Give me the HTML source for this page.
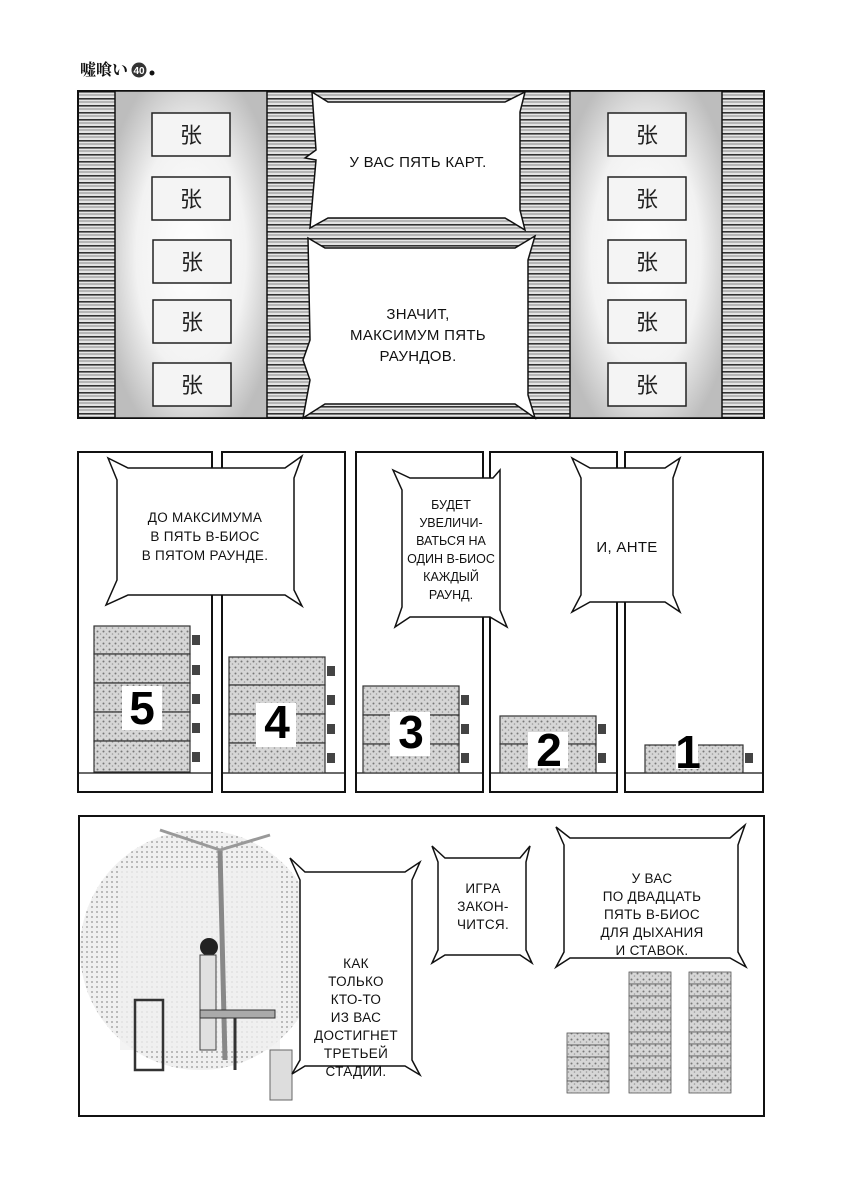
<!DOCTYPE html>
<html><head><meta charset="utf-8"><style>
html,body{margin:0;padding:0;background:#fff;}
svg{display:block;}
text{font-family:"Liberation Sans","DejaVu Sans",sans-serif;}
.t{font-size:13.5px;fill:#111;text-anchor:middle;letter-spacing:0.3px;}
.s{font-size:12.5px;letter-spacing:0;}
.n{font-size:46px;font-weight:bold;fill:#000;text-anchor:middle;}
</style></head><body>
<svg width="844" height="1200" viewBox="0 0 844 1200" xmlns="http://www.w3.org/2000/svg">
<defs>
<pattern id="str" width="10" height="7" patternUnits="userSpaceOnUse">
<rect width="10" height="7" fill="#e4e4e4"/><rect y="0" width="10" height="1.6" fill="#333"/><rect y="3.5" width="10" height="1" fill="#888"/>
</pattern>
<radialGradient id="glow" cx="50%" cy="50%" r="60%">
<stop offset="0" stop-color="#fff"/><stop offset="0.6" stop-color="#f2f2f2"/><stop offset="1" stop-color="#bdbdbd"/>
</radialGradient>
<pattern id="tex" width="6" height="6" patternUnits="userSpaceOnUse">
<rect width="6" height="6" fill="#d6d6d6"/><circle cx="1.5" cy="1.5" r="1" fill="#777"/><circle cx="4.5" cy="4" r="0.8" fill="#999"/>
</pattern>
<pattern id="dots" width="5" height="5" patternUnits="userSpaceOnUse">
<rect width="5" height="5" fill="#eee"/><circle cx="2" cy="2" r="0.9" fill="#888"/>
</pattern>
</defs>

<text x="80" y="75" style="font-family:'Noto Serif CJK SC',serif;font-size:16px;font-weight:bold;fill:#111">嘘喰い</text>
<circle cx="139" cy="70" r="7.5" fill="#333"/><text x="139" y="74" style="font-size:10px;fill:#fff;text-anchor:middle;font-weight:bold">40</text>
<circle cx="152" cy="73" r="2.5" fill="#111"/>

<rect x="78" y="91" width="686" height="327" fill="url(#str)" stroke="#111" stroke-width="2"/>
<rect x="115" y="91" width="152" height="327" fill="url(#glow)" stroke="#111" stroke-width="1.5"/>
<rect x="570" y="91" width="152" height="327" fill="url(#glow)" stroke="#111" stroke-width="1.5"/>
<g fill="#f4f4f4" stroke="#222" stroke-width="1.5">
<rect x="152" y="113" width="78" height="43"/><rect x="152" y="177" width="78" height="43"/><rect x="153" y="240" width="78" height="43"/><rect x="153" y="300" width="78" height="43"/><rect x="153" y="363" width="78" height="43"/>
<rect x="608" y="113" width="78" height="43"/><rect x="608" y="177" width="78" height="43"/><rect x="608" y="240" width="78" height="43"/><rect x="608" y="300" width="78" height="43"/><rect x="608" y="363" width="78" height="43"/>
</g>
<g font-size="22" fill="#222" text-anchor="middle" style="font-family:'Noto Sans CJK SC',sans-serif">
<text x="191" y="143">张</text><text x="191" y="207">张</text><text x="192" y="270">张</text><text x="192" y="330">张</text><text x="192" y="393">张</text>
<text x="647" y="143">张</text><text x="647" y="207">张</text><text x="647" y="270">张</text><text x="647" y="330">张</text><text x="647" y="393">张</text>
</g>
<polygon points="312,92 328,102 505,102 525,92 520,112 520,210 525,230 505,218 328,218 310,228 316,160 305,158 316,150" fill="#fff" stroke="#111" stroke-width="1.5"/>
<polygon points="308,238 325,248 515,248 535,236 528,260 528,395 535,418 515,404 325,404 303,418 310,380 303,360 310,340" fill="#fff" stroke="#111" stroke-width="1.5"/>
<text class="t" x="418" y="167" style="font-size:15px">У ВАС ПЯТЬ КАРТ.</text>
<text class="t" x="418" y="319" style="font-size:15px">ЗНАЧИТ,</text>
<text class="t" x="418" y="340" style="font-size:15px">МАКСИМУМ ПЯТЬ</text>
<text class="t" x="418" y="361" style="font-size:15px">РАУНДОВ.</text>

<g fill="#fff" stroke="#111" stroke-width="2">
<rect x="78" y="452" width="134" height="340"/>
<rect x="222" y="452" width="123" height="340"/>
<rect x="356" y="452" width="127" height="340"/>
<rect x="490" y="452" width="127" height="340"/>
<rect x="625" y="452" width="138" height="340"/>
</g>
<g stroke="#111" stroke-width="1.2">
<line x1="79" y1="773" x2="211" y2="773"/><line x1="223" y1="773" x2="344" y2="773"/><line x1="357" y1="773" x2="482" y2="773"/><line x1="491" y1="773" x2="616" y2="773"/><line x1="626" y1="773" x2="762" y2="773"/>
</g>
<g stroke="#333" stroke-width="1.2" fill="url(#tex)">
<rect x="94" y="626" width="96" height="28"/><rect x="94" y="654" width="96" height="29"/><rect x="94" y="683" width="96" height="29"/><rect x="94" y="712" width="96" height="29"/><rect x="94" y="741" width="96" height="31"/>
<rect x="229" y="657" width="96" height="28"/><rect x="229" y="685" width="96" height="29"/><rect x="229" y="714" width="96" height="29"/><rect x="229" y="743" width="96" height="30"/>
<rect x="363" y="686" width="96" height="29"/><rect x="363" y="715" width="96" height="29"/><rect x="363" y="744" width="96" height="29"/>
<rect x="500" y="716" width="96" height="28"/><rect x="500" y="744" width="96" height="29"/>
<rect x="645" y="745" width="98" height="28"/>
</g>
<g fill="#444">
<rect x="192" y="635" width="8" height="10"/><rect x="192" y="665" width="8" height="10"/><rect x="192" y="694" width="8" height="10"/><rect x="192" y="723" width="8" height="10"/><rect x="192" y="752" width="8" height="10"/>
<rect x="327" y="666" width="8" height="10"/><rect x="327" y="695" width="8" height="10"/><rect x="327" y="724" width="8" height="10"/><rect x="327" y="753" width="8" height="10"/>
<rect x="461" y="695" width="8" height="10"/><rect x="461" y="724" width="8" height="10"/><rect x="461" y="753" width="8" height="10"/>
<rect x="598" y="724" width="8" height="10"/><rect x="598" y="753" width="8" height="10"/>
<rect x="745" y="753" width="8" height="10"/>
</g>
<g fill="#fff"><rect x="122" y="686" width="40" height="44"/><rect x="256" y="703" width="40" height="44"/><rect x="390" y="712" width="40" height="44"/><rect x="528" y="732" width="40" height="36"/><rect x="676" y="733" width="22" height="36"/></g>
<text class="n" x="142" y="724">5</text>
<text class="n" x="277" y="738">4</text>
<text class="n" x="411" y="748">3</text>
<text class="n" x="549" y="766">2</text>
<text class="n" x="688" y="768">1</text>
<polygon points="108,458 128,468 285,468 302,456 294,478 294,590 302,606 285,595 128,595 106,605 117,580 117,480" fill="#fff" stroke="#111" stroke-width="1.5"/>
<polygon points="393,470 410,478 493,478 500,470 500,610 507,627 490,617 410,617 395,627 402,607 402,490" fill="#fff" stroke="#111" stroke-width="1.5"/>
<polygon points="572,458 590,468 665,468 680,458 673,478 673,595 680,612 665,602 590,602 572,612 581,595 581,478" fill="#fff" stroke="#111" stroke-width="1.5"/>
<text class="t" x="205" y="522">ДО МАКСИМУМА</text>
<text class="t" x="205" y="541">В ПЯТЬ В-БИОС</text>
<text class="t" x="205" y="560">В ПЯТОМ РАУНДЕ.</text>
<text class="t s" x="451" y="509">БУДЕТ</text>
<text class="t s" x="451" y="527">УВЕЛИЧИ-</text>
<text class="t s" x="451" y="545">ВАТЬСЯ НА</text>
<text class="t s" x="451" y="563">ОДИН В-БИОС</text>
<text class="t s" x="451" y="581">КАЖДЫЙ</text>
<text class="t s" x="451" y="599">РАУНД.</text>
<text class="t" x="627" y="552" style="font-size:15px">И, АНТЕ</text>

<rect x="79" y="816" width="685" height="300" fill="#fff" stroke="#111" stroke-width="2"/>
<ellipse cx="200" cy="950" rx="120" ry="120" fill="url(#dots)" opacity="0.9"/>
<rect x="120" y="870" width="160" height="180" fill="#f0f0f0" opacity="0.8"/>
<line x1="220" y1="850" x2="225" y2="1060" stroke="#888" stroke-width="5"/>
<line x1="220" y1="850" x2="160" y2="830" stroke="#999" stroke-width="3"/>
<line x1="220" y1="850" x2="270" y2="835" stroke="#999" stroke-width="3"/>
<circle cx="209" cy="947" r="9" fill="#222"/>
<rect x="200" y="955" width="16" height="95" fill="#e0e0e0" stroke="#444"/>
<rect x="135" y="1000" width="28" height="70" fill="none" stroke="#333" stroke-width="2.5"/>
<rect x="200" y="1010" width="75" height="8" fill="#aaa" stroke="#333"/>
<line x1="235" y1="1018" x2="235" y2="1070" stroke="#333" stroke-width="3"/>
<rect x="270" y="1050" width="22" height="50" fill="#ddd" stroke="#666"/>
<polygon points="290,858 305,872 405,872 420,862 412,880 412,1060 420,1075 405,1066 305,1066 292,1074 300,1060 300,880" fill="#fff" stroke="#111" stroke-width="1.5"/>
<polygon points="432,846 445,858 520,858 530,846 526,862 526,950 532,963 520,955 445,955 432,963 438,950 438,862" fill="#fff" stroke="#111" stroke-width="1.5"/>
<polygon points="556,827 570,838 730,838 745,825 738,845 738,952 746,967 730,958 570,958 556,967 564,952 564,845" fill="#fff" stroke="#111" stroke-width="1.5"/>
<text class="t" x="356" y="968">КАК</text>
<text class="t" x="356" y="986">ТОЛЬКО</text>
<text class="t" x="356" y="1004">КТО-ТО</text>
<text class="t" x="356" y="1022">ИЗ ВАС</text>
<text class="t" x="356" y="1040">ДОСТИГНЕТ</text>
<text class="t" x="356" y="1058">ТРЕТЬЕЙ</text>
<text class="t" x="356" y="1076">СТАДИИ.</text>
<text class="t" x="483" y="893">ИГРА</text>
<text class="t" x="483" y="911">ЗАКОН-</text>
<text class="t" x="483" y="929">ЧИТСЯ.</text>
<text class="t" x="652" y="883">У ВАС</text>
<text class="t" x="652" y="901">ПО ДВАДЦАТЬ</text>
<text class="t" x="652" y="919">ПЯТЬ В-БИОС</text>
<text class="t" x="652" y="937">ДЛЯ ДЫХАНИЯ</text>
<text class="t" x="652" y="955">И СТАВОК.</text>
<g stroke="#555" stroke-width="0.8" fill="url(#tex)">
<rect x="567" y="1033" width="42" height="12"/><rect x="567" y="1045" width="42" height="12"/><rect x="567" y="1057" width="42" height="12"/><rect x="567" y="1069" width="42" height="12"/><rect x="567" y="1081" width="42" height="12"/>
<rect x="629" y="972" width="42" height="12"/><rect x="629" y="984" width="42" height="12"/><rect x="629" y="996" width="42" height="12"/><rect x="629" y="1008" width="42" height="12"/><rect x="629" y="1020" width="42" height="12"/><rect x="629" y="1032" width="42" height="12"/><rect x="629" y="1044" width="42" height="12"/><rect x="629" y="1056" width="42" height="12"/><rect x="629" y="1068" width="42" height="12"/><rect x="629" y="1080" width="42" height="13"/>
<rect x="689" y="972" width="42" height="12"/><rect x="689" y="984" width="42" height="12"/><rect x="689" y="996" width="42" height="12"/><rect x="689" y="1008" width="42" height="12"/><rect x="689" y="1020" width="42" height="12"/><rect x="689" y="1032" width="42" height="12"/><rect x="689" y="1044" width="42" height="12"/><rect x="689" y="1056" width="42" height="12"/><rect x="689" y="1068" width="42" height="12"/><rect x="689" y="1080" width="42" height="13"/>
</g>
</svg>
</body></html>
